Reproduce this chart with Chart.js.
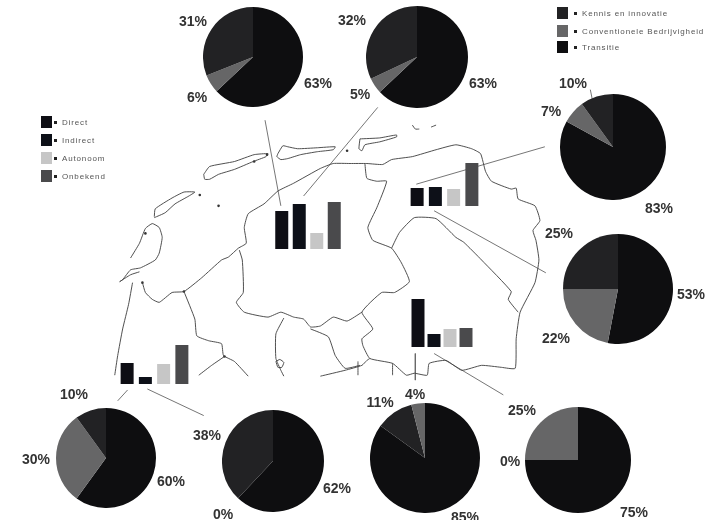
<!DOCTYPE html>
<html>
<head>
<meta charset="utf-8">
<title>Regio's</title>
<script src="https://cdnjs.cloudflare.com/ajax/libs/Chart.js/4.4.1/chart.umd.min.js"></script>
<style>
  html, body { margin: 0; background: #fff; }
  #page { position: relative; width: 711px; height: 520px; overflow: hidden; filter: blur(.75px); font-family: "Liberation Sans", Arial, sans-serif; }
  #page canvas { position: absolute; }
  .pct { position: absolute; transform: translate(-50%, -50%); font-size: 14px; font-weight: bold; color: #333; white-space: nowrap; }
  .swatch { position: absolute; width: 11px; height: 12px; }
  .dot { position: absolute; width: 3px; height: 3px; background: #222; }
  .key { position: absolute; font-size: 8px; color: #555; letter-spacing: .85px; transform: translateY(-50%); white-space: nowrap; }
</style>
</head>
<body>
<div id="page"></div>
<script>
'use strict';

// ── Pie data: share per region, in pieCategories order ────────
const pieCategories = ['Transitie', 'Conventionele Bedrijvigheid', 'Kennis en innovatie'];
const pieFriesland1 = [63, 6, 31];
const pieFriesland2 = [63, 5, 32];
const pieGroningen1 = [83, 7, 10];
const pieGroningen2 = [53, 22, 25];
const pieHolland1   = [60, 30, 10];
const pieHolland2   = [62, 0, 38];
const pieDrenthe1   = [85, 4, 11];
const pieDrenthe2   = [75, 25, 0];

// ── Bar data: height, no axis in the source ──
const barCategories = ['Direct', 'Indirect', 'Autonoom', 'Onbekend'];
const barFriesland  = [38, 45, 16, 47];
const barGroningen  = [18, 19, 17, 43];
const barHolland    = [21, 7, 20, 39];
const barDrenthe    = [48, 13, 18, 19];

const legendPies = ['Kennis en innovatie', 'Conventionele Bedrijvigheid', 'Transitie'];

// ── Map outlines, traced in picture units ─────────────────────
const mapTerschelling = [[202,173],[208,165],[233,160],[253,153],[267,152],[265,155],[252,160],[233,168],[217,173],[208,178],[203,178],[202,173]];
const mapAmeland = [[277,152],[282,144],[287,145],[297,147],[317,146],[335,145],[333,148],[317,150],[300,153],[287,157],[280,158],[276,155],[277,152]];
const mapVlieland = [[152,216],[153,208],[170,197],[182,191],[193,191],[187,195],[173,203],[163,212],[152,217]];
const mapTexel = [[128,258],[137,243],[143,228],[150,223],[157,227],[160,237],[157,253],[153,260],[138,268],[128,270],[120,280],[117,282],[128,275],[137,272]];
const mapSchier = [[360,137],[380,136],[397,133],[397,135],[380,140],[365,143],[362,149],[359,147],[360,137]];
const mapRottum = [[413,123],[416,127],[420,127]];
const mapRottum2 = [[432,125],[437,123]];
const mapHollandCoast = [[130,283],[126,305],[120,330],[115,357],[112,377]];
const mapIJssel = [[140,283],[143,293],[150,300],[157,303],[170,293],[182,292],[200,278],[220,260],[227,257],[237,248],[245,243],[243,227],[247,213],[263,203],[277,190],[293,182],[320,167],[333,162],[350,162],[367,162],[383,163],[392,158],[413,155],[437,148],[457,143],[473,147],[482,152],[487,170],[493,180],[513,188],[518,187],[520,198],[537,205],[542,220],[535,230],[538,240],[541,260],[537,283],[522,313],[518,340],[517,370],[503,369],[483,367],[463,372],[447,362],[430,365],[428,377],[415,375],[407,377],[393,365],[370,360],[363,347],[362,340],[373,330],[362,313],[382,293],[395,293],[410,282],[402,263],[392,248],[373,240],[368,227],[377,207],[387,180],[377,180],[367,177],[365,162]];
const mapInner1 = [[392,248],[400,232],[415,217],[437,218],[457,237],[465,242],[483,260],[513,292],[510,300],[520,313]];
const mapInner2 = [[182,292],[193,320],[195,337],[207,342],[220,345],[222,357],[233,363],[247,378]];
const mapInner3 = [[197,377],[210,367],[223,358]];
const mapInner4 = [[238,250],[241,260],[242,293],[235,303],[243,313],[267,318],[280,313],[293,318],[303,320],[310,328],[320,327],[333,318],[347,322],[362,313]];
const mapInner5 = [[283,319],[275,335],[275,360],[280,372],[283,378]];
const mapInner6 = [[310,330],[328,338],[335,357],[345,370],[360,367]];
const mapInner7 = [[320,378],[345,372],[362,367],[367,362],[370,360]];
const mapInner8 = [[358,377],[358,363]];
const mapInner9 = [[393,377],[393,365]];
const mapLoop = [[275,363],[279,361],[283,364],[281,369],[277,369],[275,363]];
const mapIslets = [[347,149],[217,205],[198,194],[143,233],[266,153],[253,160],[140,283],[182,292],[223,358]];

const mapOutlines = [mapTerschelling, mapAmeland, mapVlieland, mapTexel, mapSchier, mapRottum, mapRottum2, mapHollandCoast,
  mapIJssel, mapInner1, mapInner2, mapInner3, mapInner4, mapInner5, mapInner6, mapInner7, mapInner8, mapInner9, mapLoop];

// leader lines from the bar groups to their pies
const leaderLines = [
  [[264,118],[280,205]], [[378,105],[303,195]], [[547,145],[417,183]], [[435,210],[548,273]],
  [[416,355],[416,382]], [[435,355],[505,397]], [[125,392],[115,403]], [[145,391],[202,418]],
  [[593,87],[595,97]]
];

// ── Colours ───────────────────────────────────────────────────
const PIE_COLORS = { 'Transitie': '#0e0e10', 'Conventionele Bedrijvigheid': '#666667', 'Kennis en innovatie': '#222224' };
const BAR_COLORS = ['#0e0e14', '#0d1018', '#c6c6c6', '#4a4a4c'];

// ── Layout ────────────────────────────────────────────────────
// slice: drawing order of the categories, label: [x, y] per category
const pieLayout = [
  { values: pieFriesland1, cx: 253, cy: 57,  r: 50, slice: [0, 1, 2], label: [[318,83],[197,97],[193,21]] },
  { values: pieFriesland2, cx: 417, cy: 57,  r: 51, slice: [0, 1, 2], label: [[483,83],[360,94],[352,20]] },
  { values: pieGroningen1, cx: 613, cy: 147, r: 53, slice: [0, 1, 2], label: [[659,208],[551,111],[573,83]] },
  { values: pieGroningen2, cx: 618, cy: 289, r: 55, slice: [0, 1, 2], label: [[691,294],[556,338],[559,233]] },
  { values: pieHolland1,   cx: 106, cy: 458, r: 50, slice: [0, 1, 2], label: [[171,481],[36,459],[74,394]] },
  { values: pieHolland2,   cx: 273, cy: 461, r: 51, slice: [0, 1, 2], label: [[337,488],[223,514],[207,435]] },
  { values: pieDrenthe1,   cx: 425, cy: 458, r: 55, slice: [0, 2, 1], label: [[465,517],[415,394],[380,402]] },
  { values: pieDrenthe2,   cx: 578, cy: 460, r: 53, slice: [0, 1, 2], label: [[634,512],[522,410],[510,461]] },
];
const barLayout = [
  { values: barFriesland, left: 273, right: 343, base: 249 },
  { values: barGroningen, left: 408, right: 481, base: 206 },
  { values: barHolland,   left: 118, right: 191, base: 384 },
  { values: barDrenthe,   left: 410, right: 474, base: 347 },
];
const BAR_WIDTH = 13;
const BAR_MAX = 50;

const page = document.getElementById('page');
Chart.defaults.animation = false;
Chart.defaults.responsive = false;
Chart.defaults.plugins.legend.display = false;
Chart.defaults.plugins.tooltip.enabled = false;

function addCanvas(left, top, w, h) {
  const c = document.createElement('canvas');
  c.width = w;
  c.height = h;
  c.style.cssText = `left:${left}px;top:${top}px;width:${w}px;height:${h}px`;
  page.appendChild(c);
  return c;
}

function addDiv(cls, left, top, text) {
  const d = document.createElement('div');
  d.className = cls;
  d.style.left = left + 'px';
  d.style.top = top + 'px';
  if (text) d.textContent = text;
  page.appendChild(d);
  return d;
}

// ── Map and leader lines ──────────────────────────────────────
const toPoints = path => path.map(p => ({ x: p[0], y: p[1] }));

new Chart(addCanvas(0, 0, 711, 520), {
  type: 'scatter',
  data: {
    datasets: [
      ...mapOutlines.map(path => ({ data: toPoints(path), showLine: true, borderColor: '#3c3c3c', borderWidth: 0.9, pointRadius: 0, tension: 0.15 })),
      ...leaderLines.map(path => ({ data: toPoints(path), showLine: true, borderColor: '#666', borderWidth: 0.9, pointRadius: 0 })),
      { data: toPoints(mapIslets), showLine: false, pointRadius: 1.3, pointBackgroundColor: '#333', pointBorderWidth: 0 },
    ]
  },
  options: {
    layout: { padding: 0 },
    scales: {
      x: { display: false, min: 0, max: 711 },
      y: { display: false, min: 0, max: 520, reverse: true }
    }
  }
});

// ── Bar groups ────────────────────────────────────────────────
barLayout.forEach(g => {
  const w = g.right - g.left;
  new Chart(addCanvas(g.left, g.base - BAR_MAX, w, BAR_MAX), {
    type: 'bar',
    data: {
      labels: barCategories,
      datasets: [{ data: g.values, backgroundColor: BAR_COLORS, barPercentage: BAR_WIDTH / (w / 4), categoryPercentage: 1 }]
    },
    options: {
      layout: { padding: 0 },
      scales: { x: { display: false }, y: { display: false, min: 0, max: BAR_MAX } }
    }
  });
});

// ── Pies ──────────────────────────────────────────────────────
pieLayout.forEach(p => {
  new Chart(addCanvas(p.cx - p.r, p.cy - p.r, p.r * 2, p.r * 2), {
    type: 'pie',
    data: {
      labels: p.slice.map(i => pieCategories[i]),
      datasets: [{
        data: p.slice.map(i => p.values[i]),
        backgroundColor: p.slice.map(i => PIE_COLORS[pieCategories[i]]),
        borderWidth: 0
      }]
    },
    options: { layout: { padding: 0 } }
  });
  p.values.forEach((v, i) => addDiv('pct', p.label[i][0], p.label[i][1], v + '%'));
});

// ── Legends ───────────────────────────────────────────────────
const barKeyRows = [122, 140, 158, 176];
barCategories.forEach((name, i) => {
  addDiv('swatch', 41, barKeyRows[i] - 6).style.background = BAR_COLORS[i];
  addDiv('dot', 54, barKeyRows[i] - 1);
  addDiv('key', 62, barKeyRows[i], name);
});

const pieKeyRows = [13, 31, 47];
legendPies.forEach((name, i) => {
  addDiv('swatch', 557, pieKeyRows[i] - 6).style.background = PIE_COLORS[name];
  addDiv('dot', 574, pieKeyRows[i] - 1);
  addDiv('key', 582, pieKeyRows[i], name);
});
</script>
</body>
</html>
